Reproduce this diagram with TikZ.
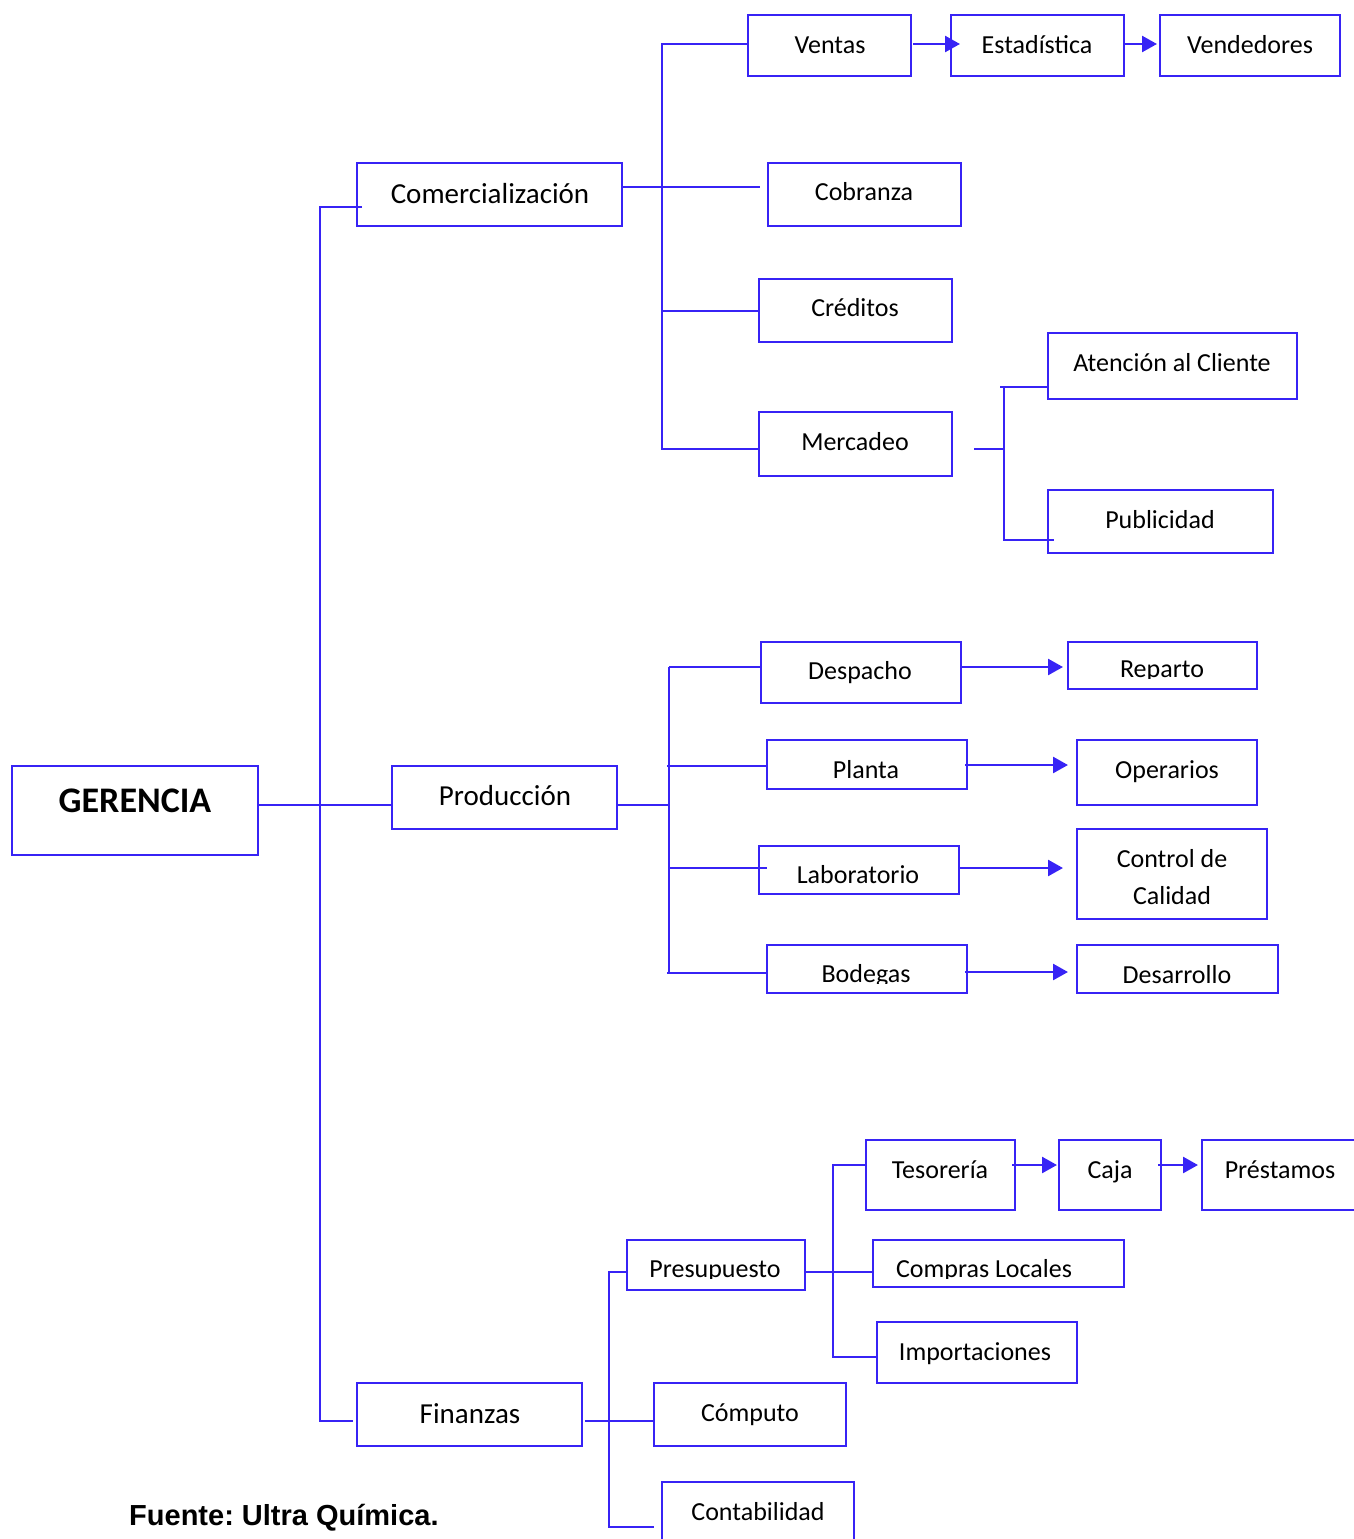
\documentclass[tikz,border=0pt]{standalone}
\usepackage{fontspec}
\setmainfont{Carlito}
\newfontfamily\arialf{Liberation Sans}
\usetikzlibrary{arrows.meta}
\definecolor{bl}{RGB}{55,35,245}
\tikzset{
 box/.style={draw=bl, line width=2.6pt, rectangle, inner sep=0pt, outer sep=0pt},
 lbl/.style={anchor=base, inner sep=0pt, font=\fontsize{26}{30}\selectfont},
 lblb/.style={lbl, font=\fontsize{29}{34}\selectfont},
 ln/.style={draw=bl, line width=2.6pt},
 arr/.style={ln, -{Triangle[length=15pt,width=16pt]}},
}
\newcommand\bx[5]{%
 \node[box, minimum width={(#4-#2)*1pt}, minimum height={(#5-#3)*1pt}] (#1) at ({(#2+#4)/2},{(#3+#5)/2}) {};}
\frenchspacing
\begin{document}
\begin{tikzpicture}[x=1pt,y=-1pt]
\useasboundingbox (0,0) rectangle (1354,1539);
\clip (0,0) rectangle (1354,1539);
% boxes
\bx{ger}{12}{766}{258}{855}
\bx{com}{357}{163}{622}{226}
\bx{ven}{748}{15}{911}{76}
\bx{est}{951}{15}{1124}{76}
\bx{vnd}{1160}{15}{1340}{76}
\bx{cob}{768}{163}{961}{226}
\bx{cre}{759}{279}{952}{342}
\bx{mer}{759}{412}{952}{476}
\bx{ate}{1048}{333}{1297}{399}
\bx{pub}{1048}{490}{1273}{553}
\bx{pro}{392}{766}{617}{829}
\bx{des}{761}{642}{961}{703}
\bx{pla}{767}{740}{967}{789}
\bx{lab}{759}{846}{959}{894}
\bx{bod}{767}{945}{967}{993}
\bx{rep}{1068}{642}{1257}{689}
\bx{ope}{1077}{740}{1257}{805}
\bx{cca}{1077}{829}{1267}{919}
\bx{dsr}{1077}{945}{1278}{993}
\bx{fin}{357}{1383}{582}{1446}
\bx{pre}{627}{1240}{805}{1290}
\bx{cmp}{654}{1383}{846}{1446}
\bx{con}{662}{1482}{854}{1560}
\bx{tes}{866}{1140}{1015}{1210}
\bx{caj}{1059}{1140}{1161}{1210}
\bx{pst}{1202}{1140}{1370}{1210}
\bx{cl}{873}{1240}{1124}{1287}
\bx{imp}{877}{1322}{1077}{1383}
% texts
\node[anchor=base, inner sep=0pt, font=\bfseries\fontsize{36}{40}\selectfont] (gerT) at (135,812) {GERENCIA};
\node[lbl] (venT) at (830,53) {Ventas};
\node[lbl] (estT) at (1037,53) {Estadística};
\node[lbl] (vndT) at (1250,53) {Vendedores};
\node[lblb] (comT) at (490,203) {Comercialización};
\node[lbl] (cobT) at (864,200) {Cobranza};
\node[lbl] (creT) at (855,316) {Créditos};
\node[lbl] (merT) at (855,450) {Mercadeo};
\node[lbl] (ateT) at (1172,371) {Atención al Cliente};
\node[lbl] (pubT) at (1160,528) {Publicidad};
\node[lblb] (proT) at (505,805) {Producción};
\node[lbl] (desT) at (860,679) {Despacho};
\node[lbl] (plaT) at (866,778) {Planta};
\node[lbl] (labT) at (858,883) {Laboratorio};
\begin{scope}
\clip (767,945) rectangle (967,983);
\node[lbl] (bodT) at (866,982) {Bodegas};
\end{scope}
\begin{scope}
\clip (1068,642) rectangle (1257,678);
\node[lbl] (repT) at (1162,677) {Reparto};
\end{scope}
\node[lbl] (opeT) at (1167,778) {Operarios};
\node[lbl] (ccaT) at (1172,867) {Control de};
\node[lbl] (ccbT) at (1172,904) {Calidad};
\node[lbl] (dsrT) at (1177,983) {Desarrollo};
\node[lblb] (finT) at (470,1423) {Finanzas};
\begin{scope}
\clip (627,1240) rectangle (1124,1278);
\node[lbl] (preT) at (715,1277) {Presupuesto};
\node[lbl] (clT) at (984,1277) {Compras Locales};
\end{scope}
\node[lbl] (cmpT) at (750,1421) {Cómputo};
\node[lbl] (conT) at (758,1520) {Contabilidad};
\node[lbl] (tesT) at (940,1178) {Tesorería};
\node[lbl] (cajT) at (1110,1178) {Caja};
\node[lbl] (pstT) at (1280,1178) {Préstamos};
\node[lbl] (impT) at (975,1360) {Importaciones};
\node[anchor=base west, inner sep=0pt, font=\arialf\bfseries\fontsize{29}{34}\selectfont] (fte) at (129,1525) {Fuente: Ultra Química.};
% junction coordinates
\coordinate (gA) at (258,805); \coordinate (gB) at (392,805);
\coordinate (m1) at (362,207); \coordinate (m2) at (320,207);
\coordinate (m3) at (320,1421); \coordinate (m4) at (353,1421);
\draw[ln] (gA) -- (gB);
\draw[ln] (m1) -- (m2) -- (m3) -- (m4);
% comercializacion
\coordinate (c0) at (622,187); \coordinate (c1) at (760,187);
\coordinate (c2) at (748,44); \coordinate (c3) at (662,44);
\coordinate (c4) at (662,449); \coordinate (c5) at (759,449);
\coordinate (c6) at (662,311); \coordinate (c7) at (759,311);
\draw[ln] (c0) -- (c1);
\draw[ln] (c2) -- (c3) -- (c4) -- (c5);
\draw[ln] (c6) -- (c7);
\coordinate (k0) at (974,449); \coordinate (k1) at (1004,449);
\coordinate (k2) at (1000,387); \coordinate (k3) at (1048,387);
\coordinate (k4) at (1004,387); \coordinate (k5) at (1004,540); \coordinate (k6) at (1054,540);
\draw[ln] (k0) -- (k1);
\draw[ln] (k2) -- (k3);
\draw[ln] (k4) -- (k5) -- (k6);
\coordinate (a1) at (913,44); \coordinate (a2) at (960,44);
\coordinate (a3) at (1124,44); \coordinate (a4) at (1157,44);
\draw[arr] (a1) -- (a2);
\draw[arr] (a3) -- (a4);
% produccion
\coordinate (p0) at (617,805); \coordinate (p1) at (669,805);
\coordinate (p2) at (669,667); \coordinate (p3) at (669,973);
\draw[ln] (p0) -- (p1);
\draw[ln] (p2) -- (p3);
\coordinate (q1) at (761,667); \coordinate (q2) at (667,766); \coordinate (q3) at (767,766);
\coordinate (q4) at (669,868); \coordinate (q5) at (767,868);
\coordinate (q6) at (667,973); \coordinate (q7) at (767,973);
\draw[ln] (p2) -- (q1);
\draw[ln] (q2) -- (q3);
\draw[ln] (q4) -- (q5);
\draw[ln] (q6) -- (q7);
\coordinate (r1) at (961,667); \coordinate (r2) at (1063,667);
\coordinate (r3) at (965,765); \coordinate (r4) at (1068,765);
\coordinate (r5) at (959,868); \coordinate (r6) at (1063,868);
\coordinate (r7) at (965,972); \coordinate (r8) at (1068,972);
\draw[arr] (r1) -- (r2);
\draw[arr] (r3) -- (r4);
\draw[arr] (r5) -- (r6);
\draw[arr] (r7) -- (r8);
% finanzas
\coordinate (f0) at (585,1421); \coordinate (f1) at (654,1421);
\coordinate (f2) at (627,1272); \coordinate (f3) at (609,1272);
\coordinate (f4) at (609,1527); \coordinate (f5) at (654,1527);
\draw[ln] (f0) -- (f1);
\draw[ln] (f2) -- (f3) -- (f4) -- (f5);
\coordinate (h0) at (805,1272); \coordinate (h1) at (873,1272);
\coordinate (h2) at (867,1165); \coordinate (h3) at (833,1165);
\coordinate (h4) at (833,1357); \coordinate (h5) at (877,1357);
\draw[ln] (h0) -- (h1);
\draw[ln] (h2) -- (h3) -- (h4) -- (h5);
\coordinate (s1) at (1012,1165); \coordinate (s2) at (1057,1165);
\coordinate (s3) at (1158,1165); \coordinate (s4) at (1198,1165);
\draw[arr] (s1) -- (s2);
\draw[arr] (s3) -- (s4);
\end{tikzpicture}
\end{document}
